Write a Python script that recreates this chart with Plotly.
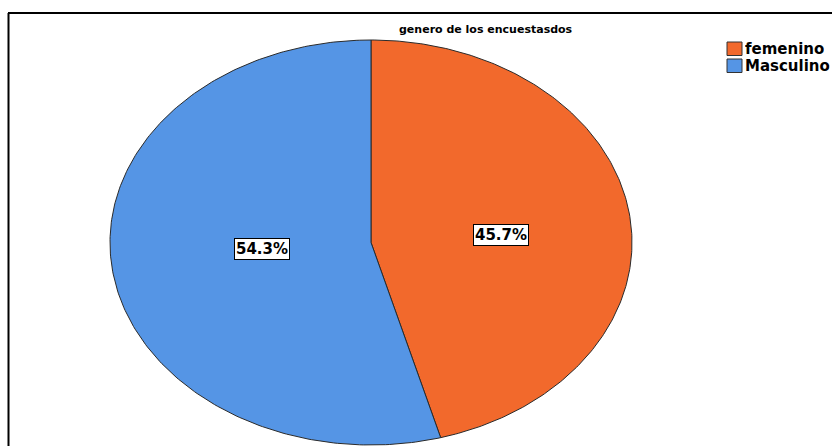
import numpy as np
import plotly.graph_objects as go

categories = ["femenino", "Masculino"]
percentages = [45.7, 54.3]
colors = ["#F2692C", "#5595E5"]
title_text = "genero de los encuestasdos"

# ellipse geometry (pixel-like axis units)
cx, cy, rx, ry = 371, 242.5, 261, 202.5

fig = go.Figure()
total = sum(percentages)
start = 0.0
label_pos = []
for cat, val, col in zip(categories, percentages, colors):
    frac = val / total
    t = np.linspace(start, start + frac, 240) * 2 * np.pi
    xs = np.concatenate([[cx], cx + rx * np.sin(t), [cx]])
    ys = np.concatenate([[cy], cy - ry * np.cos(t), [cy]])
    fig.add_trace(go.Scatter(x=xs, y=ys, fill="toself", fillcolor=col, mode="lines",
                             line=dict(color="#2a2a2a", width=1), name=cat,
                             showlegend=False, hoverinfo="skip"))
    half = frac * np.pi
    d = 2 * np.sin(half) / (3 * half)  # sector centroid distance
    mid = (start + frac / 2) * 2 * np.pi
    label_pos.append((cx + rx * d * 1.09 * np.sin(mid), cy - ry * d * 0.62 * np.cos(mid)))
    start += frac

for (lx, ly), val in zip(label_pos, percentages):
    fig.add_annotation(x=lx, y=ly, text=f"{val:.1f}%", showarrow=False,
                       font=dict(family="DejaVu Sans", size=15, color="black", weight="bold"),
                       bgcolor="white", bordercolor="black", borderwidth=1, borderpad=1)

# title
fig.add_annotation(x=486, y=29, text=title_text, showarrow=False,
                   font=dict(family="DejaVu Sans", size=11, color="black", weight="bold"))

# legend
for i, (cat, col) in enumerate(zip(categories, colors)):
    y0 = 42 + i * 17
    fig.add_shape(type="rect", x0=727, x1=742, y0=y0, y1=y0 + 13.5,
                  fillcolor=col, line=dict(color="#333", width=1))
    fig.add_annotation(x=744, y=y0 + 7, text=cat, showarrow=False, xanchor="left",
                       height=16, borderpad=0, valign="middle",
                       font=dict(family="DejaVu Sans", size=15, color="black", weight="bold"))

# frame
fig.add_shape(type="line", x0=8, x1=832, y0=13, y1=13, line=dict(color="black", width=2))
fig.add_shape(type="line", x0=8.5, x1=8.5, y0=13, y1=446, line=dict(color="black", width=2))

fig.update_layout(width=832, height=446, margin=dict(l=0, r=0, t=0, b=0),
                  paper_bgcolor="white", plot_bgcolor="white",
                  xaxis=dict(range=[0, 832], visible=False, fixedrange=True),
                  yaxis=dict(range=[446, 0], visible=False, fixedrange=True),
                  showlegend=False)
fig.write_html("out.html")
